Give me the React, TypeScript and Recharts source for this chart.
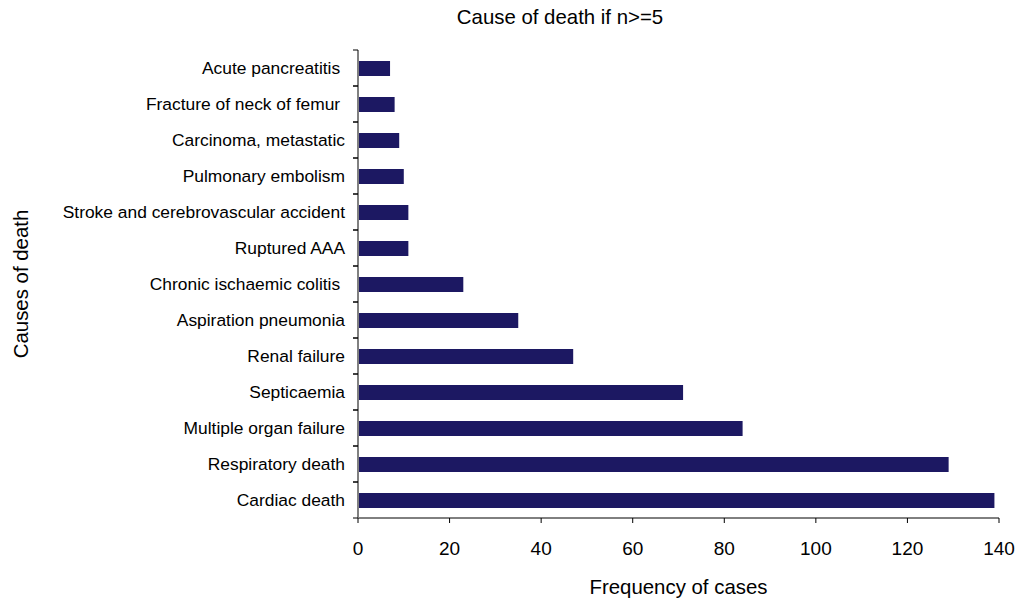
import React from 'react';
import { BarChart, Bar, XAxis, YAxis, Label } from 'recharts';

const categories: string[] = [
  'Acute pancreatitis ',
  'Fracture of neck of femur ',
  'Carcinoma, metastatic',
  'Pulmonary embolism',
  'Stroke and cerebrovascular accident',
  'Ruptured AAA',
  'Chronic ischaemic colitis ',
  'Aspiration pneumonia',
  'Renal failure',
  'Septicaemia',
  'Multiple organ failure',
  'Respiratory death',
  'Cardiac death',
];
const frequencies: number[] = [7, 8, 9, 10, 11, 11, 23, 35, 47, 71, 84, 129, 139];
const xTicks: number[] = [0, 20, 40, 60, 80, 100, 120, 140];

const chartTitle = 'Cause of death if n>=5';
const xTitle = 'Frequency of cases';
const yTitle = 'Causes of death';

const data = categories.map((c, i) => ({ cause: c, freq: frequencies[i] }));

const W = 1022;
const H = 600;
const M = { top: 50, right: 23, left: 58, bottom: 42 };
const X_AXIS_H = 40;
const Y_AXIS_W = 300;
const PLOT_H = H - M.top - M.bottom - X_AXIS_H;
const BAND = PLOT_H / categories.length;
const FONT = '"Liberation Sans", Arial, Helvetica, sans-serif';

const CategoryTick = (props: any) => {
  const { x, y, payload } = props;
  const axisX = x + 13;
  const half = BAND / 2;
  return (
    <g>
      <line x1={axisX - 5} x2={axisX} y1={y - half} y2={y - half} stroke="#000" strokeWidth={1} />
      <line x1={axisX - 5} x2={axisX} y1={y + half} y2={y + half} stroke="#000" strokeWidth={1} />
      <text
        x={x}
        y={y}
        dy="0.355em"
        textAnchor="end"
        fill="#000"
        style={{ fontFamily: FONT, fontSize: 17.4, whiteSpace: 'pre' }}
      >
        {payload.value}
      </text>
    </g>
  );
};

export default function App() {
  return (
    <div style={{ position: 'absolute', left: 0, top: 0, width: W, height: H, background: '#fff' }}>
      <BarChart
        width={W}
        height={H}
        data={data}
        layout="vertical"
        margin={M}
        barCategoryGap={0}
      >
        <XAxis
          type="number"
          dataKey="freq"
          domain={[0, 140]}
          ticks={xTicks}
          interval={0}
          height={X_AXIS_H}
          tickSize={5}
          tickMargin={19}
          axisLine={{ stroke: '#000', strokeWidth: 1 }}
          tickLine={{ stroke: '#000' }}
          tick={{ fill: '#000', fontSize: 19, fontFamily: FONT }}
        >
          <Label
            content={(p: any) => {
              const vb = p.viewBox || {};
              return (
                <text
                  x={vb.x + vb.width / 2}
                  y={vb.y + 76}
                  textAnchor="middle"
                  fill="#000"
                  style={{ fontFamily: FONT, fontSize: 20.4 }}
                >
                  {xTitle}
                </text>
              );
            }}
          />
        </XAxis>
        <YAxis
          type="category"
          dataKey="cause"
          width={Y_AXIS_W}
          interval={0}
          tickSize={5}
          tickMargin={8}
          tickLine={false}
          axisLine={{ stroke: '#808080', strokeWidth: 2 }}
          tick={<CategoryTick />}
        >
          <Label
            content={(p: any) => {
              const vb = p.viewBox || {};
              const cx = vb.x - 30;
              const cy = vb.y + vb.height / 2;
              return (
                <text
                  x={cx}
                  y={cy}
                  textAnchor="middle"
                  fill="#000"
                  transform={`rotate(-90, ${cx}, ${cy})`}
                  style={{ fontFamily: FONT, fontSize: 20.4 }}
                >
                  {yTitle}
                </text>
              );
            }}
          />
        </YAxis>
        <Bar dataKey="freq" fill="#1c1862" barSize={15} isAnimationActive={false} />
      </BarChart>
      <svg
        width={W}
        height={40}
        style={{ position: 'absolute', left: 0, top: 0, pointerEvents: 'none' }}
      >
        <text x={560} y={24} textAnchor="middle" fill="#000" style={{ fontFamily: FONT, fontSize: 20.4 }}>
          {chartTitle}
        </text>
      </svg>
    </div>
  );
}
